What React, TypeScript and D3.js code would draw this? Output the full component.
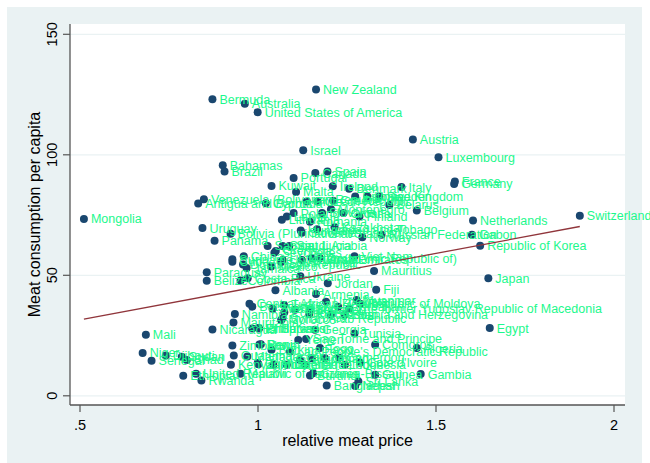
import React from "react";
import * as d3 from "d3";

const countries: string[] = [
  "New Zealand","Bermuda","Australia","United States of America","Israel","Austria","Luxembourg","France","Germany","Switzerland",
  "Netherlands","Belgium","Italy","Gabon","Russian Federation","Norway","Republic of Korea","Japan","Egypt","Gambia",
  "Mauritius","Fiji","Viet Nam","Myanmar","Republic of Moldova","The former Yugoslav Republic of Macedonia","Bosnia and Herzegovina","Jordan","Armenia","Tunisia",
  "Comoros","Algeria","Sri Lanka","Bangladesh","Nepal","Guinea","Cote d'Ivoire","Indonesia","Cameroon","Mongolia",
  "Mali","Niger","Senegal","Djibouti","Sudan","Chad","Ethiopia","United Republic of Tanzania","Rwanda","Nicaragua",
  "Zimbabwe","Kenya","Guatemala","Madagascar","Malawi","Uganda","Peru","Honduras","El Salvador","Namibia",
  "Mauritania","Central African Republic","Botswana","Swaziland","Ecuador","Morocco","Paraguay","Belize","Colombia","Costa Rica",
  "Cuba","China","Dominican Republic","Mexico","South Africa","Albania","Kyrgyzstan","Ukraine","Samoa","Seychelles",
  "Saint Lucia","Saudi Arabia","Slovenia","Bolivia (Plurinational State of)","Panama","Uruguay","Venezuela (Bolivarian Republic of)","Antigua and Barbuda","Bahamas","Brazil",
  "Portugal","Canada","Spain","Kuwait","Malta","Ireland","Cyprus","Chile","Czech Republic","Greece",
  "Poland","Latvia","Lithuania","Montenegro","Hungary","Trinidad and Tobago","Kazakhstan","Estonia","United Kingdom","Sweden",
  "Belarus","Finland","Croatia","Denmark","Jamaica","Grenada","United Arab Emirates","Malaysia","Iran (Islamic Republic of)","Oman",
  "Turkey","Tajikistan","Lebanon","Philippines","Syrian Arab Republic","Georgia","Yemen","Sao Tome and Principe","Benin","Burkina Faso",
  "Lao People's Democratic Republic","Ghana","Nigeria","Congo","Zambia","Mozambique","Liberia","Sierra Leone","Burundi","Guinea-Bissau",
  "Suriname","Uzbekistan","Azerbaijan","Slovakia","Romania","Serbia","Togo"
];

const relPrice: number[] = [
  1.163,0.872,0.963,0.999,1.127,1.435,1.507,1.553,1.551,1.904,
  1.604,1.446,1.403,1.601,1.347,1.293,1.624,1.647,1.651,1.457,
  1.326,1.332,1.271,1.277,1.287,1.256,1.244,1.196,1.163,1.271,
  1.329,1.446,1.282,1.193,1.273,1.329,1.287,1.244,1.228,0.511,
  0.685,0.676,0.701,0.741,0.786,0.800,0.790,0.826,0.841,0.872,
  0.928,0.924,0.932,0.970,0.951,0.999,1.004,0.984,1.003,0.935,
  0.931,0.976,0.984,1.041,1.074,1.065,0.856,0.856,0.951,0.971,
  0.928,0.960,0.958,1.037,1.065,1.049,1.144,1.119,1.027,1.046,
  1.069,1.088,1.123,0.923,0.878,0.844,0.848,0.832,0.901,0.906,
  1.100,1.161,1.195,1.038,1.107,1.210,1.022,1.137,1.167,1.211,
  1.100,1.081,1.067,1.205,1.120,1.166,1.215,1.273,1.307,1.341,
  1.369,1.285,1.240,1.256,0.968,1.050,1.069,1.123,1.151,1.174,
  1.073,1.104,1.146,1.001,1.069,1.160,1.113,1.135,1.008,1.038,
  1.090,1.118,1.151,1.188,1.001,1.043,1.081,1.132,1.146,1.155,
  0.928,1.191,1.225,1.180,1.146,1.205,1.174
];

const meatPerCapita: number[] = [
  127.1,123.1,121.2,117.7,101.9,106.3,99.0,88.9,87.9,74.7,
  72.7,76.9,86.6,66.8,66.8,65.8,62.3,48.8,28.1,9.0,
  51.8,44.0,57.9,39.7,38.2,36.1,33.6,46.7,42.2,25.9,
  21.2,19.8,5.9,4.3,4.1,8.7,13.7,12.9,15.8,73.4,
  25.3,17.8,14.5,16.7,16.2,14.9,8.3,9.1,6.3,27.5,
  20.9,12.9,16.7,16.3,9.1,13.6,21.3,27.9,27.9,33.9,
  30.4,38.2,37.0,36.1,34.7,31.5,51.3,47.7,47.8,48.8,
  55.6,57.9,54.5,53.6,55.5,43.8,33.9,49.6,62.2,59.4,
  62.2,62.2,67.7,67.2,64.3,69.6,81.6,79.8,95.7,93.1,
  90.4,92.4,93.1,87.1,84.6,86.9,79.9,80.6,80.6,80.9,
  75.8,74.4,73.0,77.4,68.6,69.1,69.9,82.7,82.7,82.7,
  79.2,74.4,75.8,85.9,53.0,60.1,56.4,56.4,57.1,57.1,
  37.7,35.7,35.7,28.1,32.2,27.4,23.2,23.6,21.4,19.1,
  18.4,14.9,15.6,15.6,13.1,12.9,12.9,12.9,8.4,9.4,
  56.7,39.0,36.9,75.9,72.2,33.6,19.8
];

const xTicks: number[] = [0.5, 1, 1.5, 2];
const xTickLabels: string[] = [".5", "1", "1.5", "2"];
const yTicks: number[] = [0, 50, 100, 150];

// linear fit
const fitIntercept = 17.7;
const fitSlope = 27.6;

const FONT = "'Liberation Sans', Arial, Helvetica, sans-serif";

export default function App() {
  const W = 650, H = 463;
  const plotL = 70, plotR = 625, plotT = 24, plotB = 405;
  const x = d3.scaleLinear().domain([0.5, 2]).range([80, 614]);
  const y = d3.scaleLinear().domain([0, 150]).range([395.8, 34.3]);

  const pts = countries.map((c, i) => ({ c, px: relPrice[i], m: meatPerCapita[i] }));
  const xmin = d3.min(relPrice) as number;
  const xmax = d3.max(relPrice) as number;
  const fit = [xmin, xmax].map((v) => [v, fitIntercept + fitSlope * v] as [number, number]);
  const line = d3.line<[number, number]>().x((d) => x(d[0])).y((d) => y(d[1]));

  return (
    <svg width={W} height={H} style={{ position: "absolute", left: 0, top: 0, display: "block" }} fontFamily={FONT}>
      <rect x={0} y={0} width={W} height={H} fill="#ffffff" />
      <rect x={7} y={7} width={635} height={456} fill="#eaf2f3" />
      <rect x={plotL} y={plotT} width={plotR - plotL} height={plotB - plotT} fill="#ffffff" />
      {yTicks.map((t) => (
        <line key={"g" + t} x1={plotL} x2={plotR} y1={y(t)} y2={y(t)} stroke="#eaf2f3" strokeWidth={1.3} />
      ))}
      <line x1={plotL} x2={plotL} y1={plotT} y2={plotB} stroke="#555" strokeWidth={1.3} />
      <line x1={plotL} x2={plotR} y1={plotB} y2={plotB} stroke="#555" strokeWidth={1.3} />
      {yTicks.map((t) => (
        <g key={"yt" + t}>
          <line x1={plotL - 7} x2={plotL} y1={y(t)} y2={y(t)} stroke="#555" strokeWidth={1.2} />
          <text transform={`translate(57,${y(t)}) rotate(-90)`} textAnchor="middle" fontSize={14.5} fill="#000">
            {t}
          </text>
        </g>
      ))}
      {xTicks.map((t, i) => (
        <g key={"xt" + t}>
          <line x1={x(t)} x2={x(t)} y1={plotB} y2={plotB + 7} stroke="#555" strokeWidth={1.2} />
          <text x={x(t)} y={430} textAnchor="middle" fontSize={14.5} fill="#000">
            {xTickLabels[i]}
          </text>
        </g>
      ))}
      <text transform={`translate(40,${(plotT + plotB) / 2}) rotate(-90)`} textAnchor="middle" fontSize={16} fill="#000">
        Meat consumption per capita
      </text>
      <text x={(plotL + plotR) / 2} y={446} textAnchor="middle" fontSize={16} fill="#000">
        relative meat price
      </text>
      {pts.map((p, i) => (
        <circle key={"c" + i} cx={x(p.px)} cy={y(p.m)} r={4} fill="#1a476f" />
      ))}
      {pts.map((p, i) => (
        <text key={"l" + i} x={x(p.px) + 7} y={y(p.m) + 4.5} fontSize={12.5} fill="#1cf88c">
          {p.c}
        </text>
      ))}
      <path d={line(fit) || ""} fill="none" stroke="#90353b" strokeWidth={1.3} />
    </svg>
  );
}
